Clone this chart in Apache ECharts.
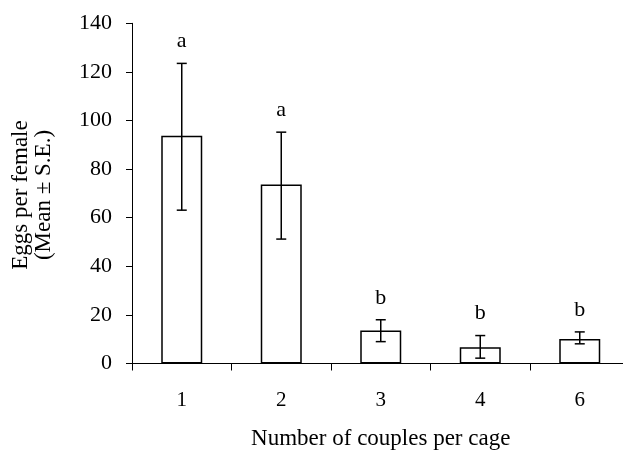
<!DOCTYPE html>
<html>
<head>
<meta charset="utf-8">
<script src="https://cdn.jsdelivr.net/npm/echarts@6/dist/echarts.min.js"></script>
<style>html,body{margin:0;padding:0;background:#fff;}#c{width:623px;height:452px;}</style>
</head>
<body>
<div id="c"></div>
<script>
var categories = ['1', '2', '3', '4', '6'];
var means = [93.7, 73.7, 13.6, 6.7, 10.1];
var errLow = [63.1, 51.2, 9.0, 2.2, 8.1];
var errHigh = [123.5, 95.2, 18.0, 11.5, 13.0];
var letters = ['a', 'a', 'b', 'b', 'b'];
var yTicks = [0, 20, 40, 60, 80, 100, 120, 140];

var FONT = 'Liberation Serif';
var chart = echarts.init(document.getElementById('c'), null, {renderer: 'canvas'});

var errData = categories.map(function (c, i) { return [i, errLow[i], errHigh[i], letters[i]]; });

chart.setOption({
  animation: false,
  backgroundColor: '#fff',
  grid: {left: 132, top: 23.3, bottom: 88.5, right: -6.5, containLabel: false, outerBoundsMode: 'none'},
  xAxis: {
    type: 'category',
    data: categories,
    boundaryGap: true,
    axisLine: {show: true, lineStyle: {color: '#000', width: 1}},
    axisTick: {show: true, inside: false, length: 7, interval: 0, alignWithLabel: false, lineStyle: {color: '#000'}},
    axisLabel: {color: '#000', fontFamily: FONT, fontSize: 21, margin: 26, interval: 0},
    name: 'Number of couples per cage',
    nameLocation: 'middle',
    nameGap: 64,
    nameTextStyle: {color: '#000', fontFamily: FONT, fontSize: 23},
    splitLine: {show: false}
  },
  yAxis: {
    type: 'value',
    min: yTicks[0],
    max: yTicks[yTicks.length - 1],
    interval: 20,
    axisLine: {show: true, lineStyle: {color: '#000', width: 1}},
    axisTick: {show: true, inside: false, length: 6, lineStyle: {color: '#000'}},
    axisLabel: {color: '#000', fontFamily: FONT, fontSize: 22, margin: 20},
    splitLine: {show: false}
  },
  graphic: [
    {type: 'text', x: 21, y: 195, rotation: Math.PI / 2,
     style: {text: 'Eggs per female', font: '23px "Liberation Serif"', fill: '#000', align: 'center', verticalAlign: 'middle'}},
    {type: 'text', x: 44, y: 195, rotation: Math.PI / 2,
     style: {text: '(Mean \u00b1 S.E.)', font: '23px "Liberation Serif"', fill: '#000', align: 'center', verticalAlign: 'middle'}}
  ],
  series: [
    {
      type: 'bar',
      data: means,
      barWidth: 41,
      itemStyle: {color: '#fff', borderColor: '#000', borderWidth: 1.5},
      z: 2
    },
    {
      type: 'custom',
      data: errData,
      z: 3,
      renderItem: function (params, api) {
        var x = api.value(0);
        var lo = api.coord([x, api.value(1)]);
        var hi = api.coord([x, api.value(2)]);
        var cap = 5;
        var style = {stroke: '#000', lineWidth: 1.5};
        return {
          type: 'group',
          children: [
            {type: 'line', shape: {x1: lo[0], y1: lo[1], x2: hi[0], y2: hi[1]}, style: style},
            {type: 'line', shape: {x1: hi[0] - cap, y1: hi[1], x2: hi[0] + cap, y2: hi[1]}, style: style},
            {type: 'line', shape: {x1: lo[0] - cap, y1: lo[1], x2: lo[0] + cap, y2: lo[1]}, style: style},
            {type: 'text', x: hi[0], y: hi[1] - 11,
             style: {text: api.value(3), font: '22px "Liberation Serif"', fill: '#000', align: 'center', verticalAlign: 'bottom'}}
          ]
        };
      }
    }
  ]
});
</script>
</body>
</html>
